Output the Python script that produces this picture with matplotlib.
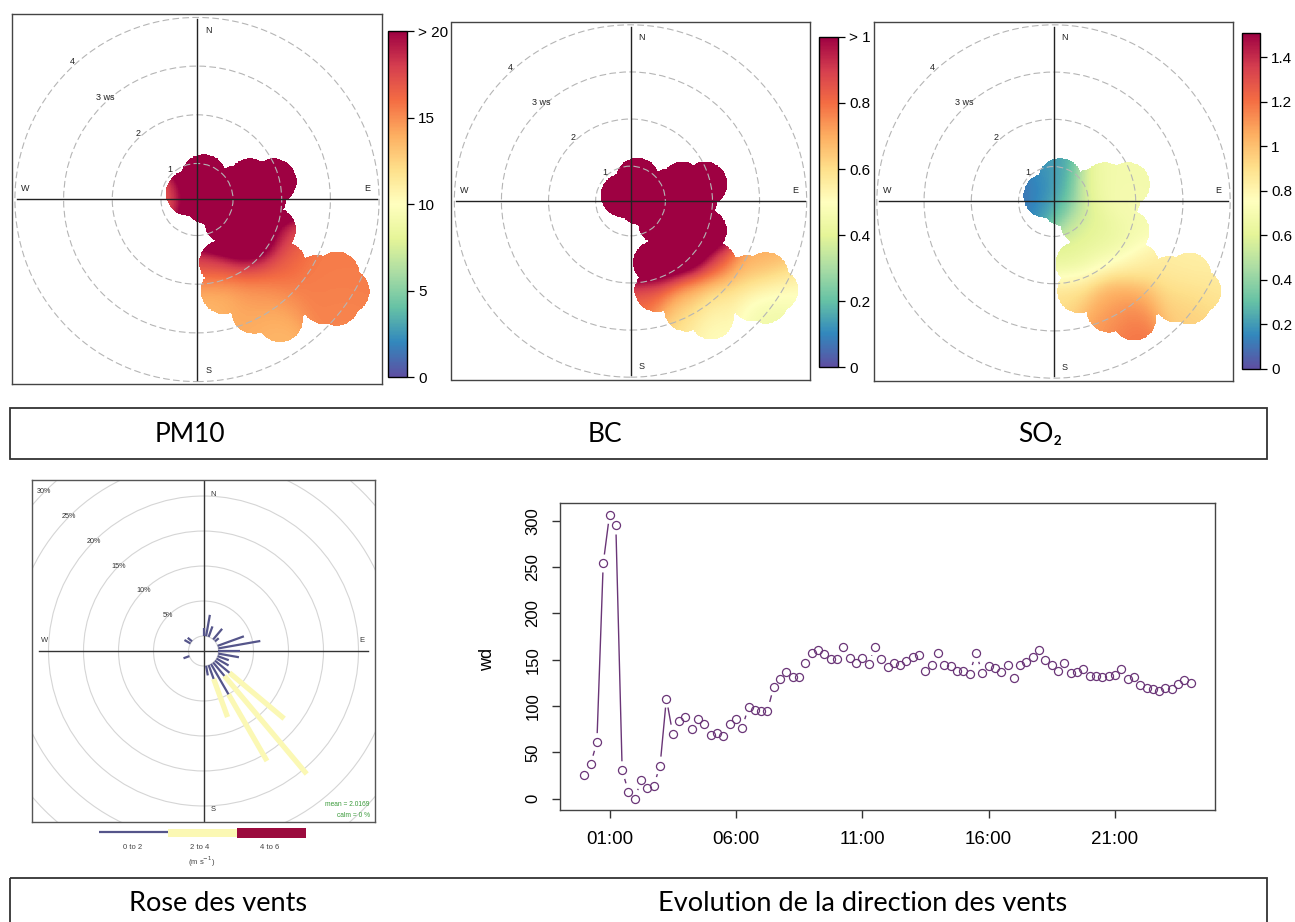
import numpy as np
import matplotlib
matplotlib.use("Agg")
import matplotlib.pyplot as plt
from matplotlib.patches import Circle, Rectangle
from matplotlib.collections import LineCollection

plt.rcParams['font.family'] = ['Liberation Sans', 'DejaVu Sans']

# ---------------- DATA ----------------
# observation footprint of the polar plots (wind direction deg, wind speed m/s)
POINT_WD = [17.2, 306.0, 103.0, 74.6, 71.6, 77.0, 89.1, 126.6, 121.8, 126.2, 158.7,
            139.4, 127.2, 163.9, 147.0, 136.7, 145.4, 118.4, 121.6, 128.9, 123.4, 126.6,
            153.0, 112.0]
POINT_WS = [0.73, 0.47, 0.47, 1.11, 1.41, 1.88, 1.63, 1.03, 1.39, 1.62, 1.67,
            1.94, 2.49, 2.23, 2.52, 3.05, 3.27, 3.53, 3.88, 3.60, 3.21, 3.84,
            2.85, 1.95]
PM10_VALUES = [30, 14.5, 30, 30, 30, 30, 30, 30, 30, 26, 18,
               17.5, 16.5, 13.5, 15, 15.2, 13.5, 15.5, 15.5, 15.5, 15.5, 15,
               14, 17]
BC_VALUES = [1.5, 1.5, 1.5, 1.5, 1.5, 1.5, 1.5, 1.5, 1.5, 1.5, 1.3,
             1.1, 0.85, 0.8, 0.72, 0.58, 0.5, 0.72, 0.5, 0.5, 0.68, 0.4,
             0.6, 1.1]
SO2_VALUES = [0.22, 0.08, 0.35, 0.6, 0.7, 0.68, 0.72, 0.55, 0.62, 0.62, 0.6,
              0.75, 0.82, 0.92, 1.05, 1.05, 1.2, 0.82, 0.85, 0.95, 0.85, 0.98,
              1.1, 0.7]
RING_WS = [1, 2, 3, 4]
RING_LABELS = ['1', '2', '3 ws', '4']
PANEL_NAMES = ['PM10', 'BC', 'SO₂']

# wind rose: direction (deg), frequency (%) per speed class
ROSE_DIR = [0, 10, 20, 40, 50, 70, 80, 90, 100, 110, 120, 130, 140, 150, 160, 170, 250, 300, 310]
ROSE_0_2 = [1.1, 3.1, 1.6, 2.0, 0.7, 4.0, 6.1, 3.1, 3.0, 1.7, 2.0, 2.7, 2.5, 5.0, 2.1, 1.4, 0.9, 1.0, 0.8]
ROSE_2_4 = [0, 0, 0, 0, 0, 0, 0, 0, 0, 0, 0, 10.2, 18.3, 11.0, 5.8, 0, 0, 0, 0]
ROSE_RINGS = [5, 10, 15, 20, 25, 30]
ROSE_CLASSES = ['0 to 2', '2 to 4', '4 to 6']

# wind direction time series, 15-min steps from 00:00
WD_SERIES = [25, 37, 61, 254, 306.5, 295, 30.6, 7.2, 0, 19.8, 11.5, 14, 35.7, 108, 70.3, 84,
             88, 75.7, 85.8, 81, 68.5, 70.7, 67.8, 81, 86.5, 76.5, 99, 96, 95, 95, 121,
             129, 137, 131, 131, 146, 157, 161, 156, 151, 151, 164, 152, 147, 152, 145, 164,
             151, 142, 147, 144, 149, 153, 155, 138, 144, 157, 144, 143, 138, 138, 135, 157,
             136, 143, 141.5, 137, 144, 130, 144, 148, 153, 160, 150, 144, 138, 147, 136, 137,
             140, 132.5, 132.5, 131, 132.5, 134, 140, 129, 131, 123, 119, 118, 116, 119, 118,
             124, 128.5, 125]
STEP_H = 0.25
TIME_TICKS = [1, 6, 11, 16, 21]
TIME_LABELS = ['01:00', '06:00', '11:00', '16:00', '21:00']
WD_TICKS = [0, 50, 100, 150, 200, 250, 300]

# ---------------- STYLE ----------------
W, H = 1295, 922
fig = plt.figure(figsize=(W / 100, H / 100), dpi=100)
OFF = 0.26          # radial offset of the polar plot scale
LIM = 3.8
KERNEL_R = 0.47
SIGMA = 0.34
ROSE_OFF = 2.14
ROSE_C = ['#55558a', '#fbf8b4', '#9b0b3e']
PURPLE = '#6a3577'
CAP_FONT = ['Lato', 'DejaVu Sans']


def add_ax(x0, y0, x1, y1, **kw):
    return fig.add_axes([x0 / W, 1 - y1 / H, (x1 - x0) / W, (y1 - y0) / H], **kw)


def polar_panel(frame, cbox, values, vmin, vmax, ticks, ticklabels):
    ax = add_ax(*frame)
    ax.set_xlim(-LIM, LIM)
    ax.set_ylim(-LIM, LIM)
    ax.set_xticks([])
    ax.set_yticks([])
    for s in ax.spines.values():
        s.set_linewidth(1.0)
        s.set_color('#444444')
    th = np.deg2rad(POINT_WD)
    r = np.array(POINT_WS) - OFF
    px, py = r * np.sin(th), r * np.cos(th)
    g = np.linspace(-LIM, LIM, 520)
    X, Y = np.meshgrid(g, g)
    d2 = (X[..., None] - px) ** 2 + (Y[..., None] - py) ** 2
    wts = np.exp(-d2 / (2 * SIGMA ** 2))
    with np.errstate(invalid='ignore', divide='ignore'):
        Z = (wts * np.array(values)).sum(-1) / wts.sum(-1)
    Z = np.ma.array(Z, mask=d2.min(-1) > KERNEL_R ** 2)
    im = ax.imshow(Z, extent=(-LIM, LIM, -LIM, LIM), origin='lower', cmap='Spectral_r',
                   vmin=vmin, vmax=vmax, interpolation='nearest', zorder=1)
    for ws, lab in zip(RING_WS, RING_LABELS):
        rr = ws - OFF
        ax.add_patch(Circle((0, 0), rr, fill=False, ec='#b5b5b5', lw=0.8,
                            ls=(0, (6, 3)), zorder=2))
        a = np.deg2rad(318)
        ax.text((rr + 0.08) * np.sin(a), (rr + 0.08) * np.cos(a), lab, fontsize=6.5,
                ha='center', va='center', color='#222222', zorder=4)
    ax.plot([0, 0], [-3.7, 3.7], color='#222222', lw=1.0, zorder=3)
    ax.plot([-3.7, 3.7], [0, 0], color='#222222', lw=1.0, zorder=3)
    for lab, (x, y) in zip('NESW', [(0.23, 3.47), (3.49, 0.23), (0.23, -3.51), (-3.53, 0.23)]):
        ax.text(x, y, lab, fontsize=6.5, ha='center', va='center', color='#222222')
    cax = add_ax(*cbox)
    cb = fig.colorbar(im, cax=cax, ticks=ticks)
    cb.ax.set_yticklabels(ticklabels)
    cb.outline.set_linewidth(1.0)
    cb.ax.tick_params(length=5, width=0.9, labelsize=11, pad=3)


polar_panel((12, 14, 382, 385), (388, 31, 407, 377), PM10_VALUES, 0, 20,
            [0, 5, 10, 15, 20], ['0', '5', '10', '15', '> 20'])
polar_panel((450, 22, 811, 380), (819, 37, 838, 367), BC_VALUES, 0, 1,
            [0, 0.2, 0.4, 0.6, 0.8, 1.0], ['0', '0.2', '0.4', '0.6', '0.8', '> 1'])
polar_panel((874, 22, 1233, 381), (1242, 33, 1260, 369), SO2_VALUES, 0, 1.51,
            [0, 0.2, 0.4, 0.6, 0.8, 1.0, 1.2, 1.4],
            ['0', '0.2', '0.4', '0.6', '0.8', '1', '1.2', '1.4'])

# ---------------- wind rose ----------------
axr = add_ax(32, 480, 375, 822)
axr.set_xlim(-24.5, 24.5)
axr.set_ylim(-24.43, 24.43)
axr.set_xticks([])
axr.set_yticks([])
for s in axr.spines.values():
    s.set_linewidth(1.0)
    s.set_color('#555555')
axr.add_patch(Circle((0, 0), ROSE_OFF, fill=False, ec='#d5d5d5', lw=0.8))
for p in ROSE_RINGS:
    rr = ROSE_OFF + p
    axr.add_patch(Circle((0, 0), rr, fill=False, ec='#d5d5d5', lw=0.8))
    a = np.deg2rad(315)
    axr.text(rr * np.sin(a), rr * np.cos(a), f'{p}%', fontsize=5.2, ha='center',
             va='center', color='#333333')
axr.plot([0, 0], [-24.43, 24.43], color='#333333', lw=1.0)
axr.plot([-23.5, 23.5], [0, 0], color='#333333', lw=1.0)
for lab, (x, y) in zip('NESW', [(1.4, 22.4), (22.6, 1.5), (1.4, -22.6), (-22.7, 1.5)]):
    axr.text(x, y, lab, fontsize=5.5, ha='center', va='center', color='#333333')
for d, a1, a2 in zip(ROSE_DIR, ROSE_0_2, ROSE_2_4):
    t = np.deg2rad(d)
    r0, r1, r2 = ROSE_OFF, ROSE_OFF + a1, ROSE_OFF + a1 + a2
    if a2 > 0:
        axr.plot([r1 * np.sin(t), r2 * np.sin(t)], [r1 * np.cos(t), r2 * np.cos(t)],
                 color=ROSE_C[1], lw=3.8, solid_capstyle='butt', zorder=3)
    axr.plot([r0 * np.sin(t), r1 * np.sin(t)], [r0 * np.cos(t), r1 * np.cos(t)],
             color=ROSE_C[0], lw=1.6, solid_capstyle='butt', zorder=4)
axr.text(0.985, 0.05, 'mean = 2.0169', transform=axr.transAxes, fontsize=4.8,
         ha='right', va='center', color='#3a9a3a')
axr.text(0.985, 0.02, 'calm = 0 %', transform=axr.transAxes, fontsize=4.8,
         ha='right', va='center', color='#3a9a3a')

# ---------------- time series ----------------
axt = add_ax(560, 503, 1215, 810)
axt.set_xlim(-0.96, 24.96)
axt.set_ylim(-12.3, 319.3)
hours = np.arange(len(WD_SERIES)) * STEP_H
vals = np.array(WD_SERIES, dtype=float)
pts = axt.transData.transform(np.column_stack([hours, vals]))
gap = 9.0
segs = []
for p, q in zip(pts[:-1], pts[1:]):
    v = q - p
    L = np.hypot(*v)
    if L > 2 * gap:
        a = p + v / L * gap
        b = q - v / L * gap
        segs.append(axt.transData.inverted().transform(np.array([a, b])))
axt.add_collection(LineCollection(segs, colors=PURPLE, linewidths=1.0))
axt.plot(hours, vals, 'o', mfc='none', mec=PURPLE, ms=5.8, mew=0.9, ls='none')
axt.set_xticks(TIME_TICKS)
axt.set_xticklabels(TIME_LABELS)
axt.set_yticks(WD_TICKS)
axt.set_yticklabels([str(v) for v in WD_TICKS], rotation=90, va='center')
axt.tick_params(length=6, width=1.0, color='#333333')
axt.tick_params(axis='x', labelsize=13.5, pad=9)
axt.tick_params(axis='y', labelsize=12, pad=8)
for s in axt.spines.values():
    s.set_linewidth(1.0)
    s.set_color('#444444')
axt.set_ylabel('wd', fontsize=13)
axt.yaxis.set_label_coords(-0.097, 0.49)

# ---------------- caption boxes & legend ----------------
ov = fig.add_axes([0, 0, 1, 1], zorder=10)
ov.set_xlim(0, W)
ov.set_ylim(H, 0)
ov.axis('off')
ov.patch.set_alpha(0)
ov.add_patch(Rectangle((10, 408), 1257, 51, fill=False, ec='#333333', lw=1.3))
ov.add_patch(Rectangle((10, 878), 1257, 60, fill=False, ec='#333333', lw=1.3, clip_on=False))
for name, x in zip(PANEL_NAMES, [190, 605, 1040]):
    ov.text(x, 434, name, fontsize=19, ha='center', va='center', family=CAP_FONT)
ov.text(218, 903, 'Rose des vents', fontsize=19.5, ha='center', va='center', family=CAP_FONT)
ov.text(863, 903, 'Evolution de la direction des vents', fontsize=19.5, ha='center',
        va='center', family=CAP_FONT)
ov.plot([99, 168], [832, 832], color=ROSE_C[0], lw=1.6, solid_capstyle='butt')
ov.add_patch(Rectangle((168, 829), 69, 8, color=ROSE_C[1], lw=0))
ov.add_patch(Rectangle((237, 828), 69, 10, color=ROSE_C[2], lw=0))
for lab, x in zip(ROSE_CLASSES, [133, 200, 270]):
    ov.text(x, 847, lab, fontsize=5.5, ha='center', va='center', color='#444444')
ov.text(202, 862, '(m s$^{-1}$)', fontsize=5.5, ha='center', va='center', color='#444444')

fig.savefig('out.png', dpi=100)
